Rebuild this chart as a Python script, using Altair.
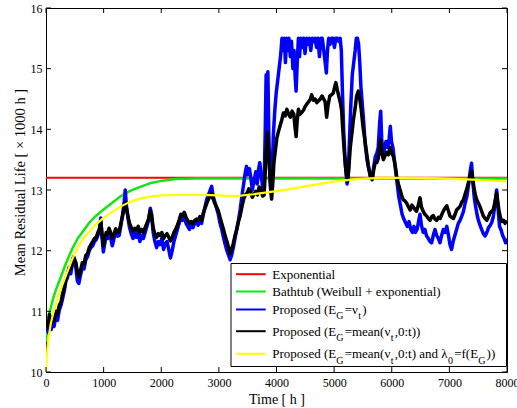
import altair as alt
import pandas as pd

# ---------------- data ----------------
x_ticks = [0, 1000, 2000, 3000, 4000, 5000, 6000, 7000, 8000]
y_ticks = [10, 11, 12, 13, 14, 15, 16]

red_t = [0, 8000]
red_v = [13.2, 13.2]

green_t = [0, 25, 50, 80, 120, 170, 250, 350, 450, 550, 650, 750, 850, 1000, 1150,
           1300, 1450, 1600, 1800, 2000, 2250, 2600, 8000]
green_v = [10.5, 10.8, 10.95, 11.05, 11.2, 11.35, 11.55, 11.8, 12.02, 12.2, 12.33, 12.46,
           12.56, 12.68, 12.79, 12.9, 12.98, 13.04, 13.11, 13.15, 13.18, 13.19, 13.19]

yellow_t = [0, 10, 25, 50, 80, 120, 170, 250, 350, 450, 550, 650, 750, 850, 1000, 1150,
            1300, 1450, 1600, 1800, 2000, 2300, 2700, 3000, 3300, 3600, 3900, 4200, 4500,
            4800, 5100, 5400, 5800, 6200, 6800, 7400, 8000]
yellow_v = [10.0, 10.2, 10.4, 10.6, 10.78, 10.95, 11.12, 11.35, 11.6, 11.85, 12.05, 12.2,
            12.31, 12.42, 12.54, 12.64, 12.73, 12.8, 12.85, 12.89, 12.91, 12.92, 12.92,
            12.91, 12.9, 12.93, 12.97, 13.01, 13.06, 13.11, 13.15, 13.18, 13.2, 13.2,
            13.19, 13.17, 13.14]

black_t = [10, 40, 60, 90, 110, 140, 170, 200, 230, 260, 290, 320, 345, 370, 400, 430, 460,
           480, 500, 520, 545, 570, 600, 630, 660, 690, 720, 750, 780, 810, 840, 870, 900,
           925, 950, 970, 995, 1020, 1045, 1070, 1095, 1120, 1150, 1180, 1210, 1240, 1270,
           1300, 1330, 1355, 1375, 1395, 1420, 1450, 1480, 1510, 1540, 1570, 1600, 1630,
           1660, 1690, 1720, 1750, 1780, 1810, 1830, 1860, 1890, 1920, 1950, 1980, 2010,
           2040, 2070, 2100, 2130, 2160, 2190, 2220, 2250, 2280, 2310, 2340, 2370, 2400,
           2430, 2460, 2490, 2520, 2550, 2580, 2610, 2640, 2670, 2700, 2730, 2760, 2790,
           2820, 2850, 2875, 2900, 2930, 2960, 2990, 3020, 3050, 3080, 3110, 3140, 3170,
           3195, 3220, 3250, 3280, 3310, 3340, 3370, 3400, 3430, 3460, 3490, 3520, 3550,
           3580, 3610, 3640, 3670, 3700, 3730, 3760, 3785, 3805, 3820, 3840, 3860, 3880,
           3900, 3915, 3935, 3955, 3980, 4005, 4030, 4060, 4090, 4120, 4150, 4180, 4210,
           4240, 4270, 4300, 4320, 4340, 4360, 4380, 4410, 4440, 4470, 4500, 4530, 4560,
           4590, 4610, 4640, 4670, 4700, 4730, 4760, 4790, 4820, 4845, 4870, 4895, 4925,
           4955, 4985, 5010, 5030, 5055, 5080, 5105, 5130, 5150, 5170, 5195, 5215, 5235,
           5255, 5280, 5310, 5335, 5365, 5390, 5420, 5445, 5470, 5500, 5530, 5565, 5595,
           5625, 5660, 5690, 5710, 5740, 5765, 5790, 5808, 5830, 5855, 5885, 5910, 5940,
           5970, 6000, 6030, 6060, 6085, 6115, 6145, 6175, 6200, 6230, 6260, 6290, 6320,
           6350, 6375, 6400, 6430, 6460, 6490, 6515, 6545, 6575, 6605, 6635, 6665, 6695,
           6720, 6750, 6780, 6810, 6840, 6870, 6895, 6925, 6955, 6985, 7010, 7040, 7070,
           7100, 7125, 7155, 7185, 7215, 7245, 7270, 7300, 7330, 7360, 7385, 7410, 7432,
           7455, 7475, 7505, 7530, 7560, 7590, 7620, 7650, 7680, 7705, 7735, 7760, 7790,
           7820, 7840, 7860, 7885, 7910, 7940, 7965, 7990]
black_v = [10.85, 10.72, 10.95, 10.8, 10.9, 10.85, 11.0, 10.95, 11.1, 11.15, 11.3, 11.4,
           11.55, 11.6, 11.72, 11.7, 11.85, 11.9, 11.85, 11.8, 11.65, 11.57, 11.68, 11.8,
           11.78, 11.92, 11.95, 12.05, 12.1, 12.15, 12.2, 12.22, 12.3, 12.35, 12.48, 12.3,
           12.08, 12.2, 12.3, 12.28, 12.37, 12.3, 12.2, 12.28, 12.36, 12.3, 12.32, 12.45,
           12.58, 12.7, 12.8, 12.7, 12.58, 12.45, 12.38, 12.32, 12.37, 12.34, 12.4, 12.3,
           12.35, 12.3, 12.38, 12.45, 12.52, 12.66, 12.6, 12.38, 12.27, 12.22, 12.28, 12.25,
           12.3, 12.2, 12.25, 12.28, 12.22, 12.16, 12.22, 12.3, 12.35, 12.42, 12.5, 12.6,
           12.58, 12.63, 12.55, 12.5, 12.45, 12.48, 12.45, 12.5, 12.52, 12.5, 12.56, 12.5,
           12.62, 12.7, 12.78, 12.85, 12.9, 12.95, 12.85, 12.78, 12.72, 12.66, 12.55, 12.45,
           12.35, 12.24, 12.15, 12.05, 11.95, 12.02, 12.12, 12.25, 12.35, 12.48, 12.58,
           12.72, 12.85, 12.92, 12.95, 13.02, 12.97, 12.88, 12.93, 12.98, 12.92, 13.05,
           13.0, 12.9, 12.92, 13.3, 13.6, 13.95, 13.7, 13.35, 13.0, 12.85, 13.1, 13.45,
           13.65, 13.85, 13.95, 14.05, 14.15, 14.27, 14.22, 14.33, 14.25, 14.2, 14.3, 14.25,
           14.05, 13.88, 14.15, 14.33, 14.25, 14.28, 14.32, 14.38, 14.42, 14.46, 14.5,
           14.57, 14.48, 14.5, 14.44, 14.47, 14.5, 14.55, 14.5, 14.45, 14.2, 14.4, 14.55,
           14.57, 14.6, 14.7, 14.77, 14.65, 14.55, 14.45, 14.32, 14.0, 13.72, 13.4, 13.25,
           13.15, 13.35, 13.7, 13.95, 14.16, 14.35, 14.55, 14.63, 14.5, 14.33, 14.05, 13.85,
           13.6, 13.4, 13.23, 13.17, 13.35, 13.44, 13.45, 13.52, 13.7, 13.83, 13.6, 13.5,
           13.57, 13.62, 13.58, 13.7, 13.6, 13.55, 13.4, 13.23, 13.1, 13.0, 12.9, 12.84,
           12.82, 12.78, 12.72, 12.67, 12.75, 12.72, 12.68, 12.65, 12.75, 12.87, 12.72,
           12.65, 12.6, 12.57, 12.53, 12.5, 12.56, 12.58, 12.52, 12.5, 12.55, 12.53, 12.6,
           12.65, 12.7, 12.74, 12.65, 12.57, 12.55, 12.53, 12.6, 12.67, 12.7, 12.73, 12.8,
           12.84, 12.92, 13.01, 13.12, 13.23, 13.31, 13.15, 13.01, 12.9, 12.84, 12.78,
           12.73, 12.65, 12.57, 12.53, 12.5, 12.56, 12.62, 12.65, 12.67, 12.8, 12.95, 12.8,
           12.67, 12.55, 12.48, 12.5, 12.45, 12.5]

blue_t = [10, 40, 60, 90, 110, 140, 170, 200, 230, 260, 290, 320, 345, 370, 400, 430, 460,
          480, 500, 520, 545, 570, 600, 630, 660, 690, 720, 750, 780, 810, 840, 870, 900,
          925, 950, 970, 995, 1020, 1045, 1070, 1095, 1120, 1150, 1180, 1210, 1240, 1270,
          1300, 1330, 1355, 1375, 1395, 1420, 1450, 1480, 1510, 1540, 1570, 1600, 1630,
          1660, 1690, 1720, 1750, 1780, 1810, 1830, 1860, 1890, 1920, 1950, 1980, 2010,
          2040, 2070, 2100, 2130, 2160, 2190, 2220, 2250, 2280, 2310, 2340, 2370, 2400,
          2430, 2460, 2490, 2520, 2550, 2580, 2610, 2640, 2670, 2700, 2730, 2760, 2790,
          2820, 2850, 2875, 2900, 2930, 2960, 2990, 3020, 3050, 3080, 3110, 3140, 3170,
          3195, 3220, 3250, 3280, 3310, 3340, 3370, 3400, 3430, 3460, 3480, 3500, 3530,
          3555, 3580, 3610, 3640, 3665, 3690, 3710, 3740, 3765, 3790, 3805, 3820, 3835,
          3850, 3865, 3885, 3905, 3925, 3945, 3970, 3995, 4020, 4045, 4070, 4095, 4115,
          4135, 4155, 4175, 4195, 4215, 4240, 4260, 4285, 4305, 4325, 4340, 4360, 4380,
          4400, 4420, 4445, 4470, 4495, 4520, 4545, 4570, 4595, 4620, 4645, 4670, 4695,
          4720, 4745, 4770, 4795, 4820, 4845, 4865, 4885, 4905, 4930, 4955, 4980, 5005,
          5030, 5055, 5080, 5105, 5125, 5145, 5165, 5185, 5205, 5225, 5245, 5265, 5290,
          5315, 5340, 5365, 5385, 5405, 5425, 5445, 5465, 5490, 5515, 5540, 5570, 5600,
          5630, 5660, 5690, 5715, 5740, 5765, 5790, 5808, 5825, 5850, 5875, 5900, 5930,
          5955, 5975, 5995, 6020, 6045, 6070, 6095, 6120, 6150, 6180, 6210, 6240, 6270,
          6300, 6330, 6360, 6385, 6410, 6440, 6465, 6490, 6515, 6545, 6575, 6605, 6635,
          6665, 6692, 6720, 6750, 6780, 6810, 6836, 6865, 6895, 6925, 6955, 6985, 7010,
          7038, 7065, 7095, 7125, 7155, 7185, 7215, 7245, 7275, 7305, 7335, 7360, 7385,
          7410, 7435, 7460, 7490, 7520, 7559, 7590, 7620, 7650, 7680, 7710, 7733, 7760,
          7790, 7820, 7845, 7870, 7895, 7925, 7950, 7975, 7995]
blue_v = [10.75, 10.65, 10.9, 10.7, 10.82, 10.75, 10.92, 10.85, 11.02, 11.1, 11.22, 11.35,
          11.5, 11.55, 11.66, 11.62, 11.8, 11.88, 11.82, 11.7, 11.5, 11.46, 11.6, 11.72,
          11.7, 11.85, 11.9, 12.0, 12.05, 12.08, 12.15, 12.18, 12.25, 12.32, 12.54, 12.25,
          11.98, 12.12, 12.25, 12.2, 12.3, 12.22, 12.08, 12.2, 12.3, 12.24, 12.25, 12.42,
          12.6, 12.78, 13.0, 12.75, 12.55, 12.38, 12.28, 12.2, 12.3, 12.22, 12.3, 12.15,
          12.25, 12.2, 12.3, 12.4, 12.5, 12.7, 12.6, 12.3, 12.15, 12.05, 12.15, 12.1, 12.2,
          12.02, 12.12, 12.15, 12.02, 11.88, 12.0, 12.15, 12.25, 12.35, 12.45, 12.55, 12.5,
          12.58, 12.45, 12.4, 12.35, 12.42, 12.38, 12.45, 12.48, 12.42, 12.5, 12.45, 12.6,
          12.72, 12.85, 12.92, 13.0, 13.06, 12.9, 12.8, 12.7, 12.6, 12.45, 12.35, 12.22,
          12.1, 12.0, 11.92, 11.85, 11.92, 12.05, 12.2, 12.35, 12.5, 12.68, 12.9, 13.1,
          13.3, 13.39, 13.25, 13.35, 13.2, 13.0, 13.15, 13.3, 13.1, 13.35, 13.45, 13.2,
          13.0, 13.3, 14.0, 14.9, 14.2, 14.95, 14.0, 13.2, 12.95, 13.3, 13.9, 14.3, 14.6,
          14.8, 15.0, 15.2, 15.5, 15.3, 15.5, 15.1, 15.5, 15.3, 15.5, 15.2, 15.45, 15.0,
          15.3, 14.85, 14.63, 15.1, 15.5, 15.2, 15.5, 15.35, 15.5, 15.25, 15.5, 15.4, 15.5,
          15.3, 15.5, 15.45, 15.5, 15.35, 15.5, 15.2, 15.5, 15.5, 15.3, 15.1, 14.93, 15.3,
          15.5, 15.4, 15.5, 15.5, 15.35, 15.5, 15.5, 15.45, 15.5, 15.3, 14.6, 14.0, 13.6,
          13.3, 13.1, 13.25, 13.8, 14.4, 14.9, 15.1, 15.3, 15.5, 15.5, 15.4, 15.1, 14.7,
          14.4, 14.1, 13.75, 13.5, 13.35, 13.25, 13.2, 13.4, 13.55, 13.6, 13.7, 14.1, 14.3,
          13.85, 13.55, 13.7, 13.8, 13.7, 13.85, 14.05, 13.8, 13.7, 13.5, 13.3, 13.1, 12.9,
          12.75, 12.6, 12.52, 12.46, 12.4, 12.48, 12.35, 12.3, 12.4, 12.3, 12.35, 12.48,
          12.6, 12.42, 12.3, 12.35, 12.24, 12.2, 12.15, 12.13, 12.25, 12.35, 12.25, 12.2,
          12.13, 12.25, 12.35, 12.3, 12.4, 12.25, 12.1, 12.02, 12.15, 12.25, 12.35, 12.45,
          12.5, 12.57, 12.65, 12.79, 12.9, 13.1, 13.3, 13.44, 13.1, 12.85, 12.7, 12.55,
          12.45, 12.35, 12.28, 12.24, 12.3, 12.38, 12.42, 12.46, 12.55, 12.75, 13.0, 12.7,
          12.4, 12.35, 12.25, 12.2, 12.13, 12.2]

series_names = [
    "Exponential",
    "Bathtub (Weibull + exponential)",
    "Proposed (E_G=ν_t)",
    "Proposed (E_G=mean(ν_t,0:t))",
    "Proposed (E_G=mean(ν_t,0:t) and λ_0=f(E_G))",
]

# ---------------- layout / style ----------------
W, H = 461, 364
FONT = "Liberation Serif, Times New Roman, Times, serif"
RED, GREEN, BLUE, BLACK, YELLOW = "#ff0000", "#11e611", "#0000ff", "#000000", "#ffff00"

xs = alt.Scale(domain=[0, 8000], nice=False, zero=False)
ys = alt.Scale(domain=[10, 16], nice=False, zero=False)

xaxis = alt.Axis(values=x_ticks, title="Time [ h ]", grid=False, ticks=False, tickSize=0,
                 domain=False, labelFont=FONT, labelFontSize=12, labelColor="black",
                 labelPadding=5, labelFlush=False, labelOverlap=False, format="d",
                 titleFont=FONT, titleFontSize=14, titleFontWeight="normal",
                 titleColor="black", titleY=31, titleBaseline="alphabetic")
yaxis = alt.Axis(values=y_ticks, title="Mean Residual Life [ × 1000 h ]", grid=False,
                 ticks=False, tickSize=0, domain=False, labelFont=FONT, labelFontSize=12,
                 labelColor="black", labelPadding=4, labelOverlap=False, format="d",
                 titleFont=FONT, titleFontSize=14.5, titleFontWeight="normal",
                 titleColor="black", titleX=-22, titleY=174, titleAngle=270,
                 titleAlign="center", titleBaseline="alphabetic")


def line(t, v, color, sw):
    df = pd.DataFrame({"t": t, "v": v})
    return alt.Chart(df).mark_line(color=color, strokeWidth=sw, clip=True,
                                   strokeJoin="round").encode(
        x=alt.X("t:Q", scale=xs, axis=xaxis),
        y=alt.Y("v:Q", scale=ys, axis=yaxis),
    )


layers = [
    line(red_t, red_v, RED, 2),
    line(green_t, green_v, GREEN, 2.5),
    line(blue_t, blue_v, BLUE, 3.5),
    line(black_t, black_v, BLACK, 3.5),
    line(yellow_t, yellow_v, YELLOW, 2.2),
]

# inward ticks on all four sides
xt = pd.DataFrame({"t": x_ticks})
yt = pd.DataFrame({"v": y_ticks})
for y0, y1 in [(H, H - 5), (0, 5)]:
    layers.append(alt.Chart(xt).mark_rule(color="black", strokeWidth=1).encode(
        x=alt.X("t:Q", scale=xs, axis=xaxis), y=alt.value(y0), y2=alt.value(y1)))
for x0, x1 in [(0, 5), (W - 5, W)]:
    layers.append(alt.Chart(yt).mark_rule(color="black", strokeWidth=1).encode(
        y=alt.Y("v:Q", scale=ys, axis=yaxis), x=alt.value(x0), x2=alt.value(x1)))

# ---------------- manual legend (MATLAB style with subscripts) ----------------
dummy = pd.DataFrame({"k": [0]})
layers.append(alt.Chart(dummy).mark_rect(fill="white", stroke="black", strokeWidth=1).encode(
    x=alt.value(185), x2=alt.value(460.5), y=alt.value(255.5), y2=alt.value(358.5)))

TW = {'P': 556, 'r': 333, 'o': 500, 'p': 500, 's': 389, 'e': 444, 'd': 500, ' ': 250,
      '(': 333, ')': 333, 'E': 611, 'G': 722, '=': 564, 'ν': 480, 'm': 778, 'a': 444,
      'n': 500, ',': 250, '0': 500, ':': 278, 't': 278, 'λ': 520, 'f': 333}


def tw(s, size):
    return sum(TW.get(c, 500) for c in s) * size / 1000.0


def split_label(name):
    # "_X" marks a one-character subscript
    segs, buf, i = [], "", 0
    while i < len(name):
        if name[i] == "_" and i + 1 < len(name):
            if buf:
                segs.append((buf, False))
                buf = ""
            segs.append((name[i + 1], True))
            i += 2
        else:
            buf += name[i]
            i += 1
    if buf:
        segs.append((buf, False))
    return segs


row_y = [266.2, 283.5, 301.5, 323.2, 345.8]
colors = [RED, GREEN, BLUE, BLACK, YELLOW]
MAIN, SUB = 13, 10
for name, yy, col in zip(series_names, row_y, colors):
    layers.append(alt.Chart(dummy).mark_rule(color=col, strokeWidth=2).encode(
        x=alt.value(190), x2=alt.value(219.7), y=alt.value(yy)))
    x = 226.3
    for txt, sub in split_label(name):
        size = SUB if sub else MAIN
        base = yy + 4.3 + (5.5 if sub else 0)
        layers.append(alt.Chart(dummy).mark_text(
            text=txt, font=FONT, fontSize=size, color="black", align="left",
            baseline="alphabetic").encode(x=alt.value(x), y=alt.value(base)))
        x += tw(txt, size) + (1.2 if sub else 0)

chart = alt.layer(*layers).properties(
    width=W, height=H,
    padding={"left": 46, "top": 8, "right": 10, "bottom": 36},
    autosize=alt.AutoSizeParams(type="none"),
    background="white",
).configure_view(stroke="black", strokeWidth=1)

chart.save("out.html", embed_options={"renderer": "svg", "actions": False})
